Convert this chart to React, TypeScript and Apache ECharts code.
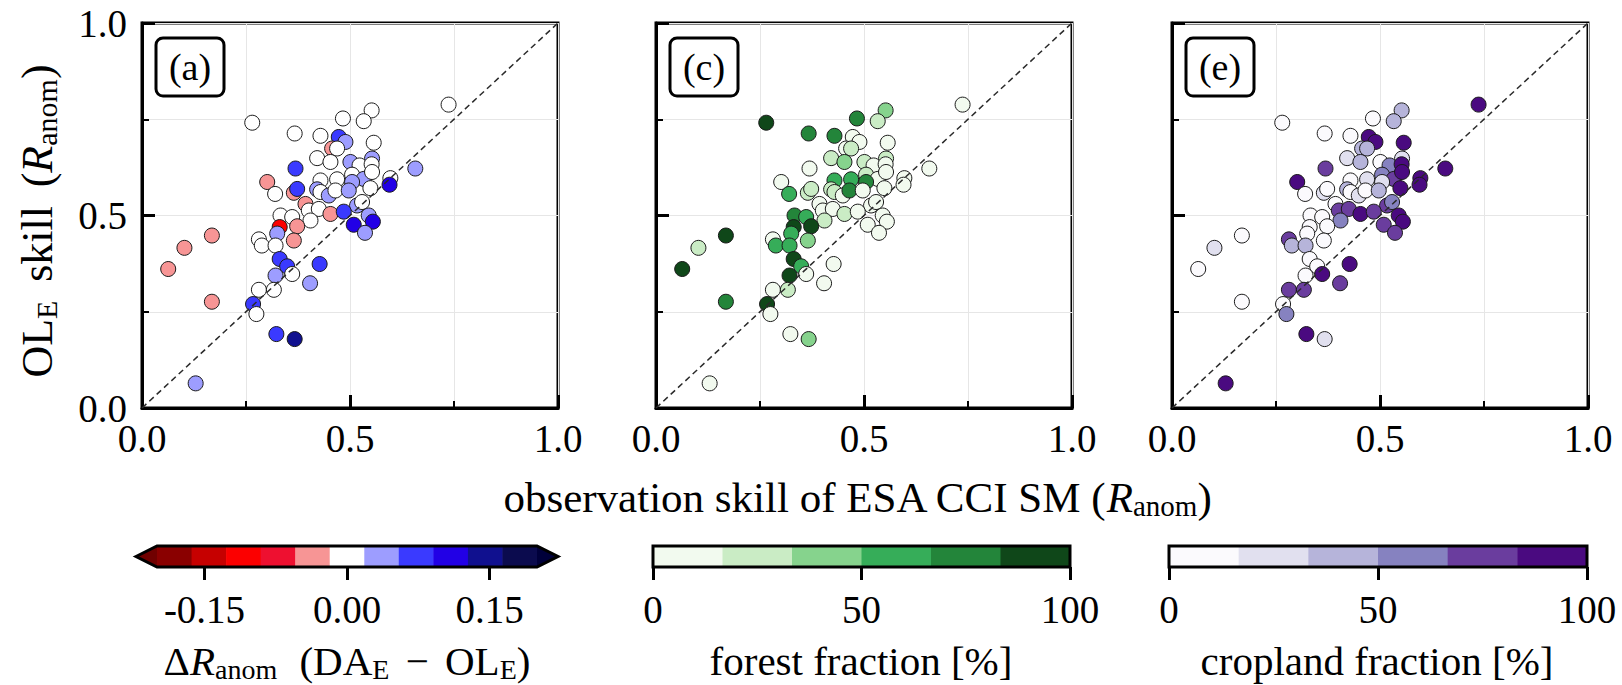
import { useEffect, useRef } from "react";
import * as echarts from "echarts";

// Observation skill of ESA CCI SM (x) and OL_E skill (y), per site
const obsSkill = [
  0.737, 0.552, 0.533, 0.483, 0.265, 0.367, 0.429, 0.473, 0.489, 0.557,
  0.457, 0.469, 0.421, 0.453, 0.553, 0.501, 0.523, 0.552, 0.369, 0.657,
  0.505, 0.533, 0.553, 0.597, 0.595, 0.301, 0.429, 0.469, 0.505, 0.549,
  0.320, 0.365, 0.373, 0.421, 0.429, 0.449, 0.465, 0.497, 0.517, 0.529,
  0.393, 0.401, 0.425, 0.453, 0.485, 0.333, 0.361, 0.405, 0.509, 0.545,
  0.555, 0.536, 0.331, 0.325, 0.373, 0.365, 0.281, 0.288, 0.321, 0.168,
  0.102, 0.063, 0.168, 0.331, 0.349, 0.361, 0.321, 0.427, 0.404, 0.281,
  0.317, 0.267, 0.275, 0.323, 0.367, 0.129,
];
const olSkill = [
  0.788, 0.773, 0.745, 0.752, 0.741, 0.713, 0.707, 0.704, 0.691, 0.689,
  0.674, 0.674, 0.649, 0.639, 0.648, 0.639, 0.630, 0.633, 0.622, 0.622,
  0.606, 0.595, 0.613, 0.597, 0.580, 0.587, 0.591, 0.594, 0.587, 0.571,
  0.556, 0.559, 0.569, 0.568, 0.561, 0.552, 0.565, 0.565, 0.526, 0.535,
  0.530, 0.513, 0.517, 0.504, 0.510, 0.500, 0.496, 0.487, 0.476, 0.500,
  0.484, 0.455, 0.470, 0.453, 0.472, 0.435, 0.438, 0.422, 0.422, 0.448,
  0.416, 0.361, 0.276, 0.387, 0.368, 0.348, 0.344, 0.374, 0.324, 0.307,
  0.307, 0.270, 0.244, 0.192, 0.179, 0.064,
];
// ΔR_anom (DA_E − OL_E)
const deltaR = [
  0, 0, 0, 0, 0, 0, 0, 0.07, 0.035, 0,
  -0.035, 0, 0, 0, 0.035, 0.035, 0, 0, 0.07, 0.035,
  0, 0.035, 0, 0, 0.1, -0.035, 0, 0, 0.035, 0,
  0, -0.035, 0.07, 0.035, 0, 0.035, 0, 0.035, 0.035, 0,
  -0.035, 0, 0, -0.035, 0.07, 0, 0, 0, 0.1, 0.035,
  0.1, 0.035, -0.1, 0.035, -0.035, -0.035, 0, 0, 0, -0.035,
  -0.035, -0.035, -0.035, 0.07, 0.07, 0, 0.035, 0.07, 0.035, 0,
  0, 0.07, 0, 0.07, 0.14, 0.035,
];
// forest fraction [%]
const forestFraction = [
  5, 40, 25, 75, 90, 75, 75, 5, 5, 5,
  5, 25, 25, 40, 25, 20, 5, 5, 5, 5,
  25, 5, 5, 5, 5, 5, 55, 60, 75, 5,
  60, 30, 25, 25, 30, 5, 80, 15, 5, 5,
  5, 5, 5, 25, 5, 75, 55, 30, 5, 5,
  5, 5, 90, 60, 90, 40, 5, 55, 60, 90,
  25, 90, 75, 90, 60, 5, 90, 5, 5, 5,
  25, 90, 5, 5, 40, 5,
];
// cropland fraction [%]
const croplandFraction = [
  95, 40, 40, 5, 5, 5, 5, 90, 90, 90,
  40, 40, 25, 40, 30, 10, 55, 90, 75, 90,
  55, 70, 85, 90, 90, 90, 5, 25, 25, 90,
  5, 30, 10, 35, 5, 30, 5, 40, 75, 60,
  5, 75, 75, 85, 75, 5, 5, 55, 75, 90,
  90, 75, 5, 5, 5, 5, 75, 40, 40, 5,
  25, 5, 5, 5, 10, 90, 5, 90, 75, 75,
  75, 5, 55, 90, 25, 90,
];

const skillTicks = [0, 0.5, 1];
const deltaTicks = [-0.15, 0, 0.15];
const fractionTicks = [0, 50, 100];

const deltaEdges = [
  -0.2, -0.1636, -0.1273, -0.0909, -0.0545, -0.0182,
  0.0182, 0.0545, 0.0909, 0.1273, 0.1636, 0.2,
];
const deltaColors = [
  "#8a0000", "#c60000", "#fc0000", "#ee1030", "#f79595", "#ffffff",
  "#9d9dff", "#3a3aff", "#2200e6", "#10108f", "#0b0b4e",
];
const deltaUnder = "#700000";
const deltaOver = "#00003a";

const fractionEdges = [0, 16.667, 33.333, 50, 66.667, 83.333, 100];
const forestColors = ["#f2faef", "#caecc5", "#86d38d", "#36ad59", "#23853a", "#0f4719"];
const croplandColors = ["#fbfafd", "#e1e0ef", "#b6b4da", "#8682c0", "#6a3d9e", "#4a0a80"];

const FONT = "'Liberation Serif', 'Times New Roman', serif";
const TICK_FS = 39;

const panels = [
  { left: 142, tag: "(a)", values: deltaR, edges: deltaEdges, colors: deltaColors, extend: true },
  { left: 656, tag: "(c)", values: forestFraction, edges: fractionEdges, colors: forestColors, extend: false },
  { left: 1172, tag: "(e)", values: croplandFraction, edges: fractionEdges, colors: croplandColors, extend: false },
];
const panelTop = 23;
const panelW = 416;
const panelH = 385;

const colorbars = [
  { left: 157, width: 380, min: -0.2, max: 0.2, ticks: deltaTicks, digits: 2 },
  { left: 653, width: 417, min: 0, max: 100, ticks: fractionTicks, digits: 0 },
  { left: 1169, width: 418, min: 0, max: 100, ticks: fractionTicks, digits: 0 },
];
const cbTop = 546;
const cbH = 21;

// rich-text styles: normal, italic, subscript, wide space
function makeRich(fs: number) {
  const lh = Math.round(fs * 1.1);
  return {
    n: { fontSize: fs, fontFamily: FONT, lineHeight: lh, fill: "#000" },
    i: { fontSize: fs, fontFamily: FONT, fontStyle: "italic", lineHeight: lh, fill: "#000" },
    s: { fontSize: Math.round(fs * 0.68), fontFamily: FONT, lineHeight: Math.round(fs * 0.45), verticalAlign: "bottom", fill: "#000" },
    w: { fontSize: Math.round(fs * 1.7), fontFamily: FONT, lineHeight: lh, fill: "#000" },
  };
}

function pieces(edges: number[], colors: string[], extend: boolean) {
  const out: any[] = colors.map((c, i) =>
    i === colors.length - 1 && !extend
      ? { gte: edges[i], lte: edges[i + 1], color: c }
      : { gte: edges[i], lt: edges[i + 1], color: c }
  );
  if (extend) {
    out.unshift({ lt: edges[0], color: deltaUnder });
    out.push({ gte: edges[edges.length - 1], color: deltaOver });
  }
  return out;
}

function buildOption() {
  const grid: any[] = [];
  const xAxis: any[] = [];
  const yAxis: any[] = [];
  const series: any[] = [];
  const visualMap: any[] = [];
  const graphic: any[] = [];

  panels.forEach((p, k) => {
    grid.push({
      left: p.left, top: panelTop, width: panelW, height: panelH,
      show: true, borderColor: "#000", borderWidth: 3, backgroundColor: "#fff",
    });
    const common = {
      gridIndex: k, type: "value", min: skillTicks[0], max: skillTicks[2], interval: 0.5,
      axisLine: { show: true, onZero: false, lineStyle: { color: "#000", width: 3 } },
      axisTick: { show: true, inside: true, length: 13, lineStyle: { color: "#000", width: 3 } },
      minorTick: { show: true, splitNumber: 2, length: 7, lineStyle: { color: "#000", width: 2 } },
      splitLine: { show: true, lineStyle: { color: "#e6e6e6", width: 1 } },
      minorSplitLine: { show: true, lineStyle: { color: "#e6e6e6", width: 1 } },
    };
    xAxis.push({
      ...common,
      axisLabel: { fontSize: TICK_FS, fontFamily: FONT, color: "#000", margin: 11, formatter: (v: number) => v.toFixed(1) },
    });
    yAxis.push({
      ...common,
      axisLabel: { show: k === 0, fontSize: TICK_FS, fontFamily: FONT, color: "#000", margin: 15, formatter: (v: number) => v.toFixed(1) },
    });
    series.push({
      type: "scatter", xAxisIndex: k, yAxisIndex: k,
      data: obsSkill.map((x, i) => [x, olSkill[i], p.values[i]]),
      symbol: "circle", symbolSize: 15,
      itemStyle: { borderColor: "#1a1a1a", borderWidth: 1, opacity: 1 },
      z: 3, silent: true,
    });
    visualMap.push({
      type: "piecewise", show: false, seriesIndex: series.length - 1, dimension: 2,
      pieces: pieces(p.edges, p.colors, p.extend),
    });
    series.push({
      type: "line", xAxisIndex: k, yAxisIndex: k,
      data: [[skillTicks[0], skillTicks[0]], [skillTicks[2], skillTicks[2]]],
      symbol: "none", silent: true, z: 4,
      lineStyle: { color: "#2a2a2a", width: 1.5, type: [6, 4] },
    });
    // panel tag box
    graphic.push({
      type: "rect", x: p.left + 14, y: 38, z: 20,
      shape: { x: 0, y: 0, width: 68, height: 58, r: 7 },
      style: { fill: "#fff", stroke: "#000", lineWidth: 3 },
    });
    graphic.push({
      type: "text", x: p.left + 48, y: 67, z: 21,
      style: { text: p.tag, fontSize: 38, fontFamily: FONT, fill: "#000", align: "center", verticalAlign: "middle" },
    });
  });

  colorbars.forEach((cb, k) => {
    const gi = panels.length + k;
    const p = panels[k];
    grid.push({ left: cb.left, top: cbTop, width: cb.width, height: cbH });
    xAxis.push({
      gridIndex: gi, type: "value", min: cb.min, max: cb.max,
      interval: k === 0 ? undefined : 50,
      axisLine: { show: false },
      splitLine: { show: false },
      axisTick: { show: true, customValues: cb.ticks, length: 13, lineStyle: { color: "#000", width: 3 } },
      axisLabel: {
        customValues: cb.ticks, fontSize: TICK_FS, fontFamily: FONT, color: "#000", margin: 23,
        formatter: (v: number) => v.toFixed(cb.digits),
      },
    });
    yAxis.push({ gridIndex: gi, type: "value", min: 0, max: 1, show: false });
    const colors = p.colors;
    series.push({
      type: "custom", xAxisIndex: gi, yAxisIndex: gi, silent: true, z: 2,
      data: colors.map((_, i) => [p.edges[i], p.edges[i + 1], i]),
      renderItem: (_params: any, api: any) => {
        const a = api.coord([api.value(0), 1]);
        const b = api.coord([api.value(1), 0]);
        return {
          type: "rect",
          shape: { x: a[0], y: a[1], width: b[0] - a[0] + 0.5, height: b[1] - a[1] },
          style: { fill: colors[api.value(2) as number] },
        };
      },
    });
    const extend = p.extend;
    series.push({
      type: "custom", xAxisIndex: gi, yAxisIndex: gi, silent: true, z: 5,
      data: [[cb.min, cb.max]],
      renderItem: (_params: any, api: any) => {
        const tl = api.coord([api.value(0), 1]);
        const br = api.coord([api.value(1), 0]);
        const my = (tl[1] + br[1]) / 2;
        const ah = 21;
        if (!extend) {
          return {
            type: "rect",
            shape: { x: tl[0], y: tl[1], width: br[0] - tl[0], height: br[1] - tl[1] },
            style: { fill: "none", stroke: "#000", lineWidth: 3 },
          };
        }
        return {
          type: "group",
          children: [
            { type: "polygon", shape: { points: [[tl[0], tl[1]], [tl[0] - ah, my], [tl[0], br[1]]] }, style: { fill: deltaUnder } },
            { type: "polygon", shape: { points: [[br[0], tl[1]], [br[0] + ah, my], [br[0], br[1]]] }, style: { fill: deltaOver } },
            {
              type: "polygon",
              shape: { points: [[tl[0] - ah, my], [tl[0], tl[1]], [br[0], tl[1]], [br[0] + ah, my], [br[0], br[1]], [tl[0], br[1]]] },
              style: { fill: "none", stroke: "#000", lineWidth: 3, lineJoin: "miter" },
            },
          ],
        };
      },
    });
  });

  // axis titles and colorbar labels
  graphic.push({
    type: "text", x: 37, y: 221, rotation: Math.PI / 2, z: 20,
    style: {
      text: "{n|OL}{s|E}{w| }{n|skill}{w| }{n|(}{i|R}{s|anom}{n|)}",
      rich: makeRich(44), align: "center", verticalAlign: "middle",
    },
  });
  graphic.push({
    type: "text", x: 857, y: 497, z: 20,
    style: {
      text: "{n|observation skill of ESA CCI SM (}{i|R}{s|anom}{n|)}",
      rich: makeRich(43), align: "center", verticalAlign: "middle",
    },
  });
  graphic.push({
    type: "text", x: 347, y: 661, z: 20,
    style: {
      text: "{n|Δ}{i|R}{s|anom}{w| }{n|(DA}{s|E}{n| }{w|−}{n| OL}{s|E}{n|)}",
      rich: { ...makeRich(41), w: { fontSize: 41, fontFamily: FONT, lineHeight: 45, fill: "#000", padding: [0, 6, 0, 6] } },
      align: "center", verticalAlign: "middle",
    },
  });
  graphic.push({
    type: "text", x: 861, y: 661, z: 20,
    style: { text: "{n|forest fraction [%]}", rich: makeRich(41), align: "center", verticalAlign: "middle" },
  });
  graphic.push({
    type: "text", x: 1377, y: 661, z: 20,
    style: { text: "{n|cropland fraction [%]}", rich: makeRich(41), align: "center", verticalAlign: "middle" },
  });

  return { animation: false, backgroundColor: "#fff", grid, xAxis, yAxis, series, visualMap, graphic };
}

export default function App() {
  const ref = useRef<HTMLDivElement>(null);
  useEffect(() => {
    if (!ref.current) return;
    const chart = echarts.init(ref.current, null, { renderer: "svg" });
    chart.setOption(buildOption() as any);
    return () => chart.dispose();
  }, []);
  return (
    <div
      ref={ref}
      style={{ position: "fixed", left: 0, top: 0, width: 1622, height: 685, background: "#fff" }}
    />
  );
}
